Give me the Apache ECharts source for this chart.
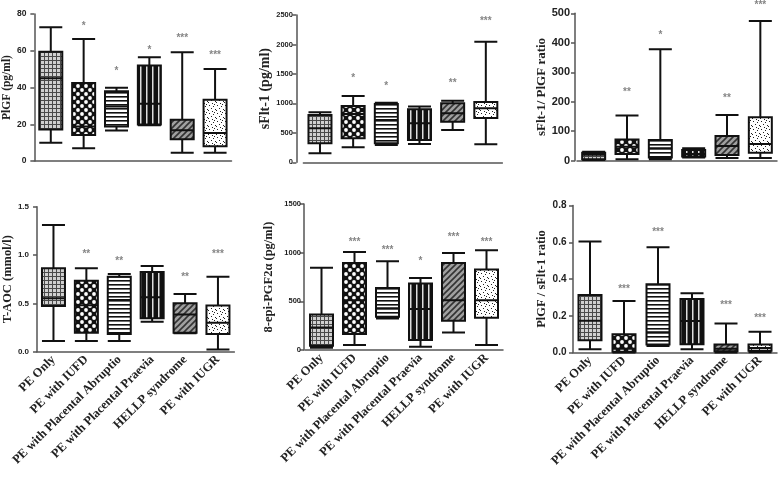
<!DOCTYPE html>
<html><head><meta charset="utf-8">
<script src="https://cdn.jsdelivr.net/npm/echarts@6/dist/echarts.min.js"></script>
<style>html,body{margin:0;padding:0;background:#fff}#c{width:778px;height:480px}</style>
</head><body><div id="c"></div>
<script>
// ---------- DATA ----------
const categories = ['PE Only','PE with IUFD','PE with Placental Abruptio','PE with Placental Praevia','HELLP syndrome','PE with IUGR'];
// each box: [min, Q1, median, Q3, max]
const plgf   = [[10,17.2,45,59.5,72.8],[6.9,14.1,18.8,42.4,66.4],[16.6,18.8,29.7,38,39.8],[19.4,19.9,31.1,52,56.5],[4.5,11.9,16.7,22.4,59.2],[4.5,8,15.2,33.3,50.1]];
const sflt   = [[153,322,577,803,848],[255,407,820,956,1126],[294,322,720,990,1012],[311,379,662,900,945],[550,690,831,1001,1046],[305,750,916,1024,2047]];
const ratioSP = [[2,4.5,20,27,30.5],[4.5,23,47,72,153],[4.5,11,42,70,378],[11,14,23,36,42],[9,19,50,84,155],[9,27,57,147,474]];
const taoc   = [[0.11,0.472,0.552,0.862,1.31],[0.11,0.197,0.48,0.734,0.862],[0.11,0.183,0.534,0.776,0.803],[0.31,0.345,0.562,0.824,0.886],[0.19,0.197,0.386,0.5,0.597],[0.024,0.183,0.3,0.479,0.776]];
const epi    = [[24,44,232,365,846],[51,164,512,894,1007],[324,341,430,638,911],[34,102,420,683,741],[181,300,512,894,997],[51,331,512,826,1024]];
const ratioPS = [[0.018,0.067,0.173,0.313,0.604],[0.0,0.004,0.02,0.1,0.28],[0.036,0.044,0.11,0.371,0.573],[0.018,0.045,0.171,0.291,0.322],[0.0,0.007,0.02,0.044,0.158],[0.002,0.009,0.025,0.044,0.113]];
// significance marks and the value at which each is shown
const plgfStars = ['','*','*','*','***','***'];     const plgfStarY = [null,74.2,50.1,61.4,67.7,58.6];
const sfltStars = ['','*','*','','**','***'];       const sfltStarY = [null,1465,1324,null,1380,2427];
const ratioSPStars = ['','**','*','','**','***'];   const ratioSPStarY = [null,237.6,432,null,217,534];
const taocStars = ['','**','**','','**','***'];     const taocStarY = [null,1.024,0.955,null,0.79,1.024];
const epiStars = ['','***','***','*','***','***'];  const epiStarY = [null,1126,1041,928,1184,1126];
const ratioPSStars = ['','***','***','','***','***']; const ratioPSStarY = [null,0.355,0.664,null,0.267,0.195];
// axis titles and ranges
const yNames = ['PlGF (pg/ml)','sFlt-1 (pg/ml)','sFlt-1/ PlGF ratio','T-AOC (mmol/l)','8-epi-PGF2\u03b1 (pg/ml)','PlGF / sFlt-1 ratio'];
const yMax = [80,2500,500,1.5,1500,0.8];
const yInterval = [20,500,100,0.5,500,0.2];
const yDecimals = [0,0,0,1,0,1];

// ---------- PATTERNS ----------
function pat(w,h,draw){const c=document.createElement('canvas');c.width=w;c.height=h;const g=c.getContext('2d');draw(g,w,h);return {image:c,repeat:'repeat'};}
const patterns = [
  pat(4,4,(g)=>{g.fillStyle='#d0d0d0';g.fillRect(0,0,4,4);g.fillStyle='#4a4a4a';g.fillRect(0,0,4,1);g.fillRect(0,0,1,4);}),
  pat(8,8,(g)=>{g.fillStyle='#111';g.fillRect(0,0,8,8);g.fillStyle='#fff';[[2,2],[6,6]].forEach(p=>{g.beginPath();g.arc(p[0],p[1],1.9,0,Math.PI*2);g.fill();});}),
  pat(4,4,(g)=>{g.fillStyle='#fff';g.fillRect(0,0,4,4);g.fillStyle='#111';g.fillRect(0,0,4,1.6);}),
  pat(6,6,(g)=>{g.fillStyle='#111';g.fillRect(0,0,6,6);g.fillStyle='#ddd';g.fillRect(2,0,1.5,6);}),
  pat(6,6,(g)=>{g.fillStyle='#a0a0a0';g.fillRect(0,0,6,6);g.strokeStyle='#333';g.lineWidth=1.6;g.beginPath();g.moveTo(-1,7);g.lineTo(7,-1);g.moveTo(-4,4);g.lineTo(4,-4);g.moveTo(2,10);g.lineTo(10,2);g.stroke();}),
  pat(8,8,(g)=>{g.fillStyle='#fff';g.fillRect(0,0,8,8);g.fillStyle='#222';[[1,1],[5,2],[3,4],[7,5],[0,6],[4,7],[6,0]].forEach(p=>g.fillRect(p[0],p[1],1,1));})
];

// ---------- LAYOUT ----------
const boxes = [plgf,sflt,ratioSP,taoc,epi,ratioPS];
const stars = [plgfStars,sfltStars,ratioSPStars,taocStars,epiStars,ratioPSStars];
const starY = [plgfStarY,sfltStarY,ratioSPStarY,taocStarY,epiStarY,ratioPSStarY];
const grids = [
  {left:33.5,top:14,width:198,height:147},
  {left:303.4,top:15,width:199,height:147.3},
  {left:577,top:13.3,width:200,height:147.4},
  {left:35.4,top:206.7,width:199,height:145},
  {left:305,top:204,width:198,height:146},
  {left:573,top:205.5,width:204,height:147}
];
const yOffset = [0,7,2,0,1,0];
const yLabelSize = [8.5,7.5,11,8,7.5,10];
const yLabelMargin = [8,3.5,5,8,3,6.5];
const yNameSize = [11.5,14,13,12.5,12.5,12.5];
const yNameGap = [16,21,23,21,29,24];

const option = {backgroundColor:'#fff',animation:false,grid:[],xAxis:[],yAxis:[],series:[]};
for(let k=0;k<6;k++){
  option.grid.push(Object.assign({containLabel:false},grids[k]));
  option.xAxis.push({type:'category',gridIndex:k,data:categories,
    axisLine:{lineStyle:{color:'#555',width:1.5}},
    axisTick:{alignWithLabel:true,length:4,lineStyle:{color:'#555',width:1.5}},
    axisLabel:{show:k>=3,interval:0,rotate:45,margin:6,color:'#222',fontFamily:'Liberation Serif',fontWeight:'bold',fontSize:12.5},
    splitLine:{show:false}});
  option.yAxis.push({type:'value',gridIndex:k,min:0,max:yMax[k],interval:yInterval[k],offset:yOffset[k],
    name:yNames[k],nameLocation:'middle',nameRotate:90,nameGap:yNameGap[k],
    nameTextStyle:{fontFamily:'Liberation Serif',fontWeight:'bold',fontSize:yNameSize[k],color:'#222'},
    axisLine:{show:true,lineStyle:{color:'#555',width:1.5}},
    axisTick:{show:true,length:4,lineStyle:{color:'#555',width:1.5}},
    axisLabel:{margin:yLabelMargin[k],color:'#222',fontFamily:'Liberation Sans',fontWeight:'bold',fontSize:yLabelSize[k],
      formatter:(v)=>Number(v).toFixed(yDecimals[k])},
    splitLine:{show:false}});
  option.series.push({type:'boxplot',xAxisIndex:k,yAxisIndex:k,boxWidth:[23,23],
    itemStyle:{borderColor:'#111',borderWidth:2},emphasis:{disabled:true},
    data:boxes[k].map((b,i)=>({value:b,itemStyle:{color:patterns[i],borderColor:'#111',borderWidth:2}}))});
  const sd=[];
  stars[k].forEach((s,i)=>{if(s)sd.push({name:s,value:[i,starY[k][i]]});});
  option.series.push({type:'scatter',xAxisIndex:k,yAxisIndex:k,symbolSize:0,clip:false,silent:true,
    label:{show:true,position:'inside',formatter:'{b}',color:'#666',fontFamily:'Liberation Sans',fontWeight:'bold',fontSize:10,offset:[0,2]},
    data:sd});
}
const chart = echarts.init(document.getElementById('c'));
chart.setOption(option);
</script></body></html>
